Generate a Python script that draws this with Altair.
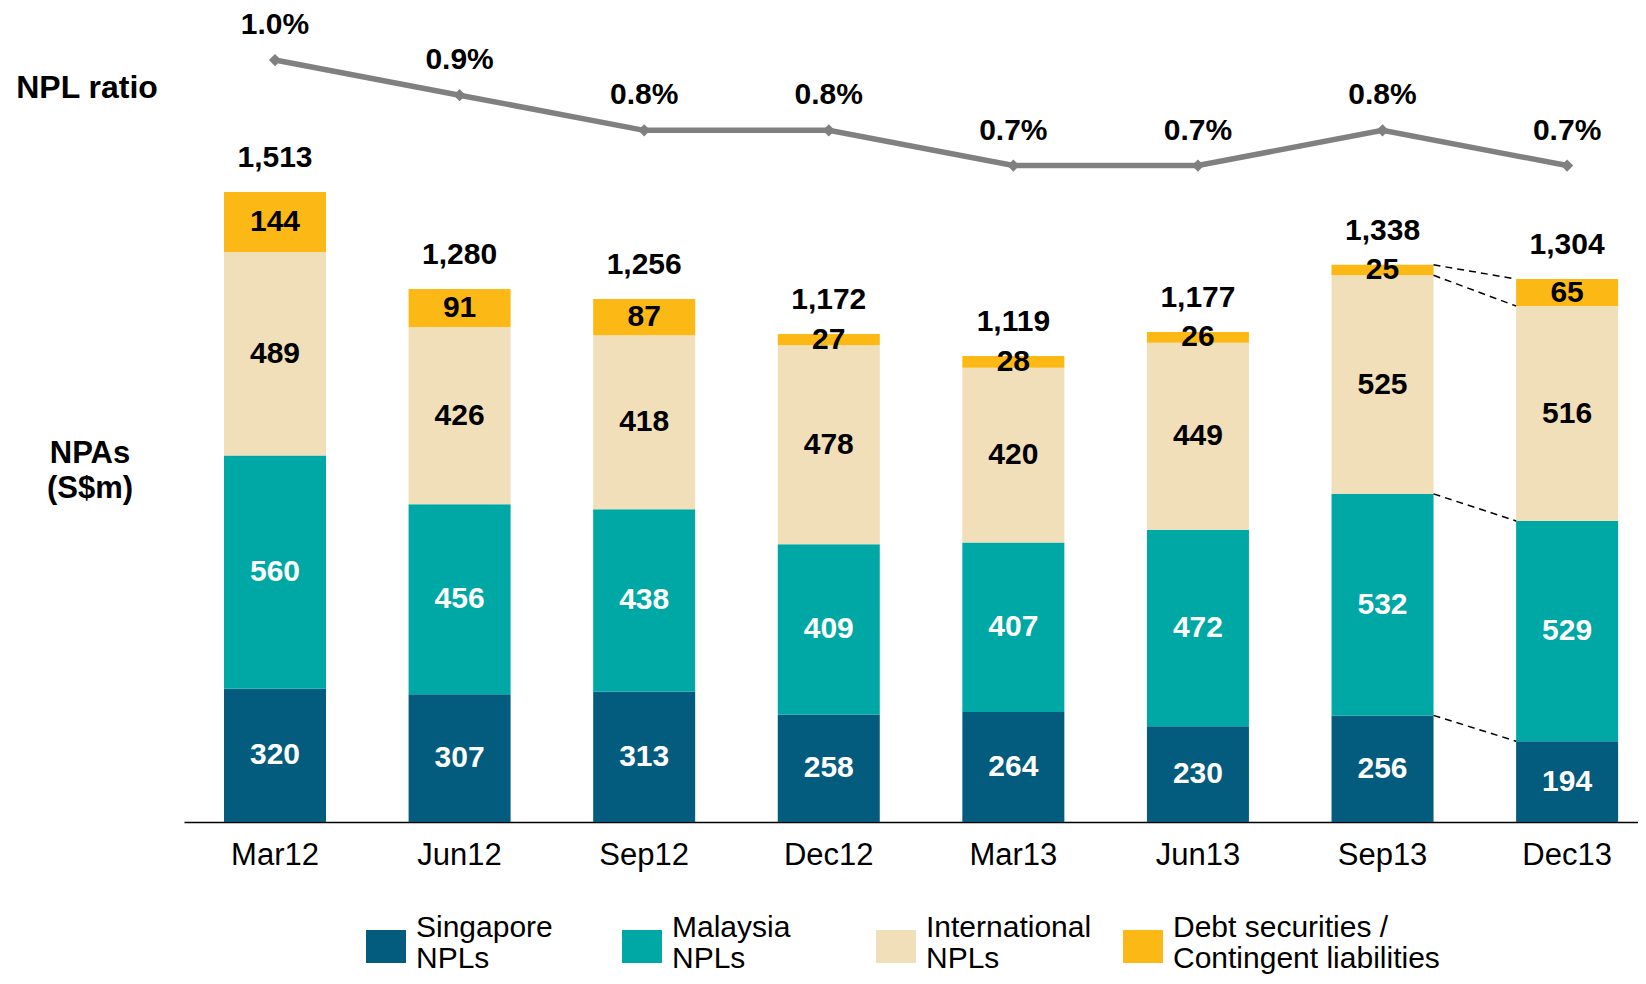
import altair as alt
import pandas as pd

periods = ["Mar12", "Jun12", "Sep12", "Dec12", "Mar13", "Jun13", "Sep13", "Dec13"]
singapore = [320, 307, 313, 258, 264, 230, 256, 194]
malaysia = [560, 456, 438, 409, 407, 472, 532, 529]
international = [489, 426, 418, 478, 420, 449, 525, 516]
debt = [144, 91, 87, 27, 28, 26, 25, 65]
totals = [1513, 1280, 1256, 1172, 1119, 1177, 1338, 1304]
npl_ratio = [1.0, 0.9, 0.8, 0.8, 0.7, 0.7, 0.8, 0.7]
series_names = ["Singapore NPLs", "Malaysia NPLs", "International NPLs",
                "Debt securities / Contingent liabilities"]
legend_labels = ["Singapore\nNPLs", "Malaysia\nNPLs", "International\nNPLs",
                 "Debt securities /\nContingent liabilities"]
colors = ["#035B7E", "#00A8A5", "#F0DFB8", "#FCB814"]
label_colors = ["white", "white", "black", "black"]

FONT = "Liberation Sans"
series_values = [singapore, malaysia, international, debt]

rows = []
for i, p in enumerate(periods):
    cum = 0
    for k, name in enumerate(series_names):
        v = series_values[k][i]
        rows.append(dict(idx=i, period=p, series=name, value=v, lower=cum,
                         upper=cum + v, mid=cum + v / 2, tcol=label_colors[k]))
        cum += v
seg = pd.DataFrame(rows)
tot = pd.DataFrame(dict(idx=list(range(len(periods))), period=periods, total=totals,
                        ratio=npl_ratio, base=[0] * len(periods)))

# dashed connectors between the last two bars
def cums(i):
    out, c = [], 0
    for s in series_values:
        c += s[i]
        out.append(c)
    return out
c6, c7 = cums(6), cums(7)
dash = pd.DataFrame(dict(x=[6] * 4, x2=[7] * 4, y=c6, y2=c7))

xs = alt.Scale(domain=[-0.493, 7.384], nice=False, zero=False, padding=0)
ys = alt.Scale(domain=[0, 1954.8], nice=False, zero=False)
yl = alt.Scale(domain=[-1.1666, 1.1479], nice=False, zero=False)

bars = alt.Chart(seg).mark_bar(size=102).encode(
    x=alt.X("idx:Q", scale=xs,
            axis=alt.Axis(labels=False, ticks=False, grid=False, domain=True,
                          domainColor="black", domainWidth=1.5, title=None)),
    y=alt.Y("lower:Q", scale=ys, axis=None),
    y2="upper:Q",
    color=alt.Color("series:N", scale=alt.Scale(domain=series_names, range=colors), legend=None),
)

seg_labels = alt.Chart(seg).mark_text(fontSize=30, fontWeight="bold", font=FONT,
                                      baseline="middle").encode(
    x=alt.X("idx:Q", scale=xs),
    y=alt.Y("mid:Q", scale=ys, axis=None),
    text=alt.Text("value:Q", format="d"),
    color=alt.Color("tcol:N", scale=None),
)

tot_labels = alt.Chart(tot).mark_text(fontSize=30, fontWeight="bold", font=FONT,
                                      baseline="middle", dy=-34, color="black").encode(
    x=alt.X("idx:Q", scale=xs),
    y=alt.Y("total:Q", scale=ys, axis=None),
    text=alt.Text("total:Q", format=",d"),
)

month_labels = alt.Chart(tot).mark_text(fontSize=31, font=FONT, baseline="middle",
                                        dy=34, color="black").encode(
    x=alt.X("idx:Q", scale=xs),
    y=alt.Y("base:Q", scale=ys, axis=None),
    text="period:N",
)

dashes = alt.Chart(dash).mark_rule(strokeDash=[7, 5], color="black", strokeWidth=1.5,
                                   xOffset=51, x2Offset=-51).encode(
    x=alt.X("x:Q", scale=xs),
    x2="x2:Q",
    y=alt.Y("y:Q", scale=ys, axis=None),
    y2="y2:Q",
)

line = alt.Chart(tot).mark_line(color="#808080", strokeWidth=5.5).encode(
    x=alt.X("idx:Q", scale=xs),
    y=alt.Y("ratio:Q", scale=yl, axis=None),
)
pts = alt.Chart(tot).mark_point(shape="diamond", filled=True, size=150, color="#808080",
                                opacity=1).encode(
    x=alt.X("idx:Q", scale=xs),
    y=alt.Y("ratio:Q", scale=yl, axis=None),
)
ratio_labels = alt.Chart(tot).transform_calculate(
    lbl="format(datum.ratio, '.1f') + '%'"
).mark_text(fontSize=30, fontWeight="bold", font=FONT, baseline="middle", dy=-35,
            color="black").encode(
    x=alt.X("idx:Q", scale=xs),
    y=alt.Y("ratio:Q", scale=yl, axis=None),
    text="lbl:N",
)

left1 = alt.Chart(pd.DataFrame({"t": ["NPL ratio"]})).mark_text(
    fontSize=32, fontWeight="bold", font=FONT, baseline="middle", align="center", color="black"
).encode(x=alt.value(-97), y=alt.value(80), text="t:N")
left2 = alt.Chart(pd.DataFrame({"t": ["NPAs\n(S$m)"]})).mark_text(
    fontSize=31, fontWeight="bold", font=FONT, baseline="top", align="center", color="black",
    lineBreak="\n", lineHeight=35
).encode(x=alt.value(-94), y=alt.value(431), text="t:N")

legend_layers = []
sw_x = [182, 438, 692, 939]
for k in range(len(series_names)):
    sq = alt.Chart(pd.DataFrame({"s": [series_names[k]]})).mark_rect(color=colors[k]).encode(
        x=alt.value(sw_x[k]), x2=alt.value(sw_x[k] + 40),
        y=alt.value(922), y2=alt.value(955))
    tx = alt.Chart(pd.DataFrame({"t": [legend_labels[k]]})).mark_text(
        fontSize=30, font=FONT, align="left", baseline="top", lineBreak="\n",
        lineHeight=31, color="black"
    ).encode(x=alt.value(sw_x[k] + 50), y=alt.value(905), text="t:N")
    legend_layers += [sq, tx]

chart = alt.layer(
    bars, seg_labels, tot_labels, month_labels, dashes, line, pts, ratio_labels,
    left1, left2, *legend_layers
).resolve_scale(y="independent").properties(
    width=1454, height=814,
    autosize=alt.AutoSizeParams(type="none"),
    padding={"left": 176, "top": 0, "right": 0, "bottom": 154},
).configure_view(stroke=None)

chart.save("out.html", embed_options={"renderer": "svg", "actions": False})
